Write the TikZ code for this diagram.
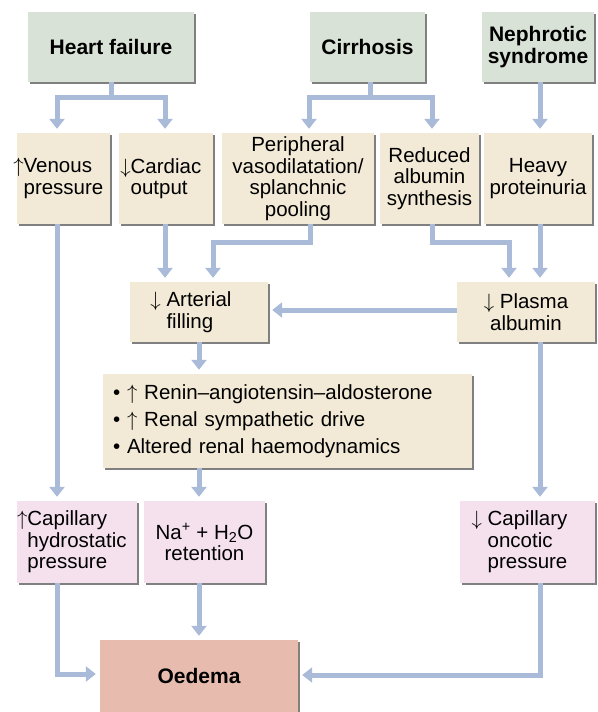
\documentclass[tikz,border=0pt]{standalone}
\usepackage{fontspec}
\setmainfont{Liberation Sans}
\usetikzlibrary{arrows.meta,shadows}

\definecolor{hdrgreen}{HTML}{D9E2D6}
\definecolor{causebeige}{HTML}{F2EAD6}
\definecolor{effectpink}{HTML}{F5E1EE}
\definecolor{oedemared}{HTML}{E7BCAE}
\definecolor{flowblue}{HTML}{AABAD9}
\definecolor{shadowgrey}{HTML}{808080}

\newcommand{\riseup}{$\uparrow$}
\newcommand{\falldown}{$\downarrow$}
\newcommand{\hangup}{\llap{\riseup}}
\newcommand{\hangdown}{\llap{\falldown}}

\tikzset{
  box/.style={inner sep=2pt, align=center,
    font=\fontsize{20.5}{21.5}\selectfont,
    drop shadow={shadow xshift=1.6pt, shadow yshift=-1.6pt, fill=shadowgrey, opacity=1}},
  hdr/.style={box, fill=hdrgreen, font=\fontsize{21}{21.5}\selectfont\bfseries},
  cause/.style={box, fill=causebeige},
  effect/.style={box, fill=effectpink},
  final/.style={box, fill=oedemared, font=\fontsize{21}{21.5}\selectfont\bfseries},
  link/.style={line width=5pt, draw=flowblue},
  flow/.style={link, -{Triangle[width=15pt,length=10pt]}, shorten >=4pt},
}

\begin{document}
\begin{tikzpicture}[x=1pt,y=-1pt]
  \useasboundingbox (0,0) rectangle (597,712);

  % Causes
  \node[hdr, minimum width=166, minimum height=70] (hf) at (111,47) {Heart failure};
  \node[hdr, minimum width=115, minimum height=70] (cir) at (367.5,47) {Cirrhosis};
  \node[hdr, minimum width=112, minimum height=70] (nep) at (538,47) {Nephrotic\\syndrome};

  % First consequences
  \node[cause, minimum width=93, minimum height=91, align=left] (ven) at (63.5,178.5) {\hangup Venous\\pressure};
  \node[cause, minimum width=94, minimum height=91, align=left] (car) at (166,178.5) {\hangdown Cardiac\\output};
  \node[cause, minimum width=152, minimum height=91] (per) at (298,178.5) {Peripheral\\vasodilatation/\\splanchnic\\pooling};
  \node[cause, minimum width=99, minimum height=91] (red) at (429.5,178.5) {Reduced\\albumin\\synthesis};
  \node[cause, minimum width=108, minimum height=91] (hev) at (538,178.5) {Heavy\\proteinuria};

  % Middle
  \node[cause, minimum width=138, minimum height=60, align=left] (art) at (199,312) {\llap{\falldown\ }Arterial\\filling};
  \node[cause, minimum width=138, minimum height=60] (pla) at (526,312) {\falldown\ Plasma\\albumin};
  \node[cause, minimum height=94, text width=349, inner xsep=10pt, align=left,
        font=\fontsize{20.5}{27}\selectfont] (raas) at (287.5,421)
        {• \riseup\ Renin–angiotensin–aldosterone\\• \riseup\ Renal sympathetic drive\\• Altered renal haemodynamics};

  % Effects
  \node[effect, minimum width=120, minimum height=82, align=left] (hyd) at (77,542) {\hangup Capillary\\hydrostatic\\pressure};
  \node[effect, minimum width=121, minimum height=82] (ret) at (204.5,542) {Na\textsuperscript{+} + H\textsubscript{2}O\\retention};
  \node[effect, minimum width=135, minimum height=82, align=left] (onc) at (527.5,542) {\llap{\falldown\ }Capillary\\oncotic\\pressure};
  \node[final, minimum width=198, minimum height=72] (oed) at (199,676) {Oedema};

  % Junctions
  \coordinate (hfj) at (111,97);
  \coordinate (cirj) at (370,97);

  % Connectors
  \draw[link] (hf.south) -- (hfj);
  \draw[flow] (hfj) -| ([xshift=-6.5]ven.north);
  \draw[flow] (hfj) -| ([xshift=-1]car.north);
  \draw[link] ([xshift=2.5]cir.south) -- (cirj);
  \draw[flow] (cirj) -| ([xshift=11]per.north);
  \draw[flow] (cirj) -| ([xshift=2.5]red.north);
  \draw[flow] ([xshift=2]nep.south) -- ([xshift=2]hev.north);

  \draw[flow] ([xshift=-1]car.south) -- ([xshift=-34]art.north);
  \draw[flow] ([xshift=12]per.south) -- ++(0,18) -| ([xshift=14]art.north);
  \draw[flow] ([xshift=2.5]red.south) -- ++(0,18) -| ([xshift=-17]pla.north);
  \draw[flow] ([xshift=2]hev.south) -- ([xshift=14]pla.north);
  \draw[flow] ([yshift=2]pla.west) -- ([yshift=2]art.east);

  \draw[flow] (art.south) -- (art.south |- raas.north);
  \draw[flow] (art.south |- raas.south) -- ([xshift=-5.5]ret.north);

  \draw[flow] ([xshift=-6.5]ven.south) -- ([xshift=-20]hyd.north);
  \draw[flow] ([xshift=14]pla.south) -- ([xshift=12.5]onc.north);

  \draw[flow] ([xshift=-20]hyd.south) |- ([yshift=2]oed.west);
  \draw[flow] (oed.north |- ret.south) -- (oed.north);
  \draw[flow] ([xshift=12.5]onc.south) |- ([yshift=1]oed.east);
\end{tikzpicture}
\end{document}
